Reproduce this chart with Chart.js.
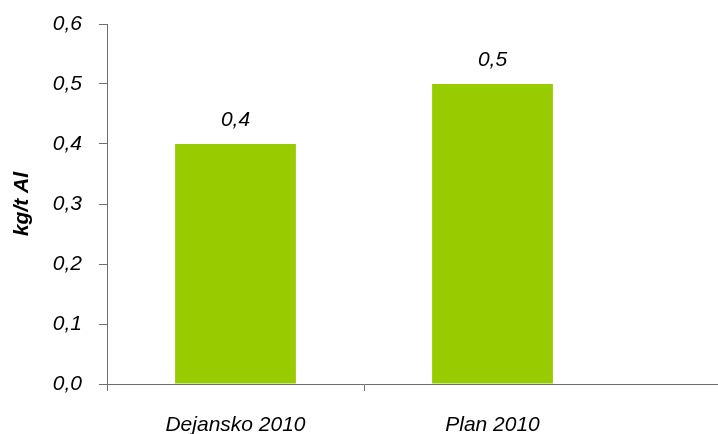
<!DOCTYPE html>
<html>
<head>
<meta charset="utf-8">
<script src="https://cdn.jsdelivr.net/npm/chart.js@4/dist/chart.umd.min.js"></script>
<style>
    html, body { margin: 0; padding: 0; background: #fff; }
    #wrap { width: 718px; height: 434px; }
</style>
</head>
<body>
<div id="wrap"><canvas id="myChart"></canvas></div>
<script>
// data
const categories = ['Dejansko 2010', 'Plan 2010'];
const values = [0.4, 0.5];
const yTicks = [0, 0.1, 0.2, 0.3, 0.4, 0.5, 0.6];
const yTitle = 'kg/t Al';

const axisColor = '#6e6e6e';
const fontFamily = '"Liberation Sans", Arial, sans-serif';
const fontSize = 21;

function fmt(v) {
    return v.toFixed(1).replace('.', ',');
}

// value labels above bars + extend x axis line to right edge
const extras = {
    id: 'extras',
    afterDatasetsDraw(chart) {
        const ctx = chart.ctx;
        const meta = chart.getDatasetMeta(0);
        ctx.save();
        ctx.font = 'italic ' + fontSize + 'px ' + fontFamily;
        ctx.fillStyle = '#000';
        ctx.textAlign = 'center';
        ctx.textBaseline = 'bottom';
        meta.data.forEach((bar, i) => {
            ctx.fillText(fmt(values[i]), bar.x, bar.y - 13);
        });
        ctx.restore();
    },
    afterDraw(chart) {
        const ctx = chart.ctx;
        const y = chart.scales.y.getPixelForValue(0);
        ctx.save();
        ctx.strokeStyle = axisColor;
        ctx.lineWidth = 1;
        ctx.beginPath();
        ctx.moveTo(chart.chartArea.right, Math.round(y) + 0.5);
        ctx.lineTo(chart.width, Math.round(y) + 0.5);
        ctx.stroke();
        ctx.restore();
    }
};

const ctx = document.getElementById('myChart').getContext('2d');
const myChart = new Chart(ctx, {
    type: 'bar',
    data: {
        labels: categories,
        datasets: [{
            data: values,
            backgroundColor: '#99cc00',
            borderWidth: 0,
            categoryPercentage: 1,
            barPercentage: 0.47
        }]
    },
    options: {
        responsive: true,
        maintainAspectRatio: false,
        animation: false,
        layout: { padding: { left: 10, right: 97, top: 24, bottom: 0 } },
        plugins: {
            legend: { display: false },
            tooltip: { enabled: false }
        },
        scales: {
            x: {
                afterFit: (axis) => { axis.height = 50; },
                grid: {
                    display: true,
                    drawOnChartArea: false,
                    tickLength: 7,
                    tickColor: (c) => (c.index === undefined || c.index >= categories.length) ? 'rgba(0,0,0,0)' : axisColor
                },
                border: { color: axisColor },
                ticks: {
                    color: '#000',
                    padding: 22,
                    maxRotation: 0,
                    font: { family: fontFamily, size: fontSize, style: 'italic' }
                }
            },
            y: {
                min: 0,
                max: 0.6,
                afterFit: (axis) => {
                    axis.width = 97;
                    axis.paddingTop = 0;
                    axis.paddingBottom = 0;
                },
                afterBuildTicks: (axis) => { axis.ticks = yTicks.map(v => ({ value: v })); },
                grid: {
                    display: true,
                    drawOnChartArea: false,
                    tickLength: 8,
                    tickColor: axisColor
                },
                border: { color: axisColor },
                ticks: {
                    color: '#000',
                    padding: 17,
                    callback: (v) => fmt(v),
                    font: { family: fontFamily, size: fontSize, style: 'italic' }
                },
                title: {
                    display: true,
                    text: yTitle,
                    color: '#000',
                    padding: { top: 0, bottom: 9 },
                    font: { family: fontFamily, size: fontSize, style: 'italic', weight: 'bold' }
                }
            }
        }
    },
    plugins: [extras]
});
</script>
</body>
</html>
